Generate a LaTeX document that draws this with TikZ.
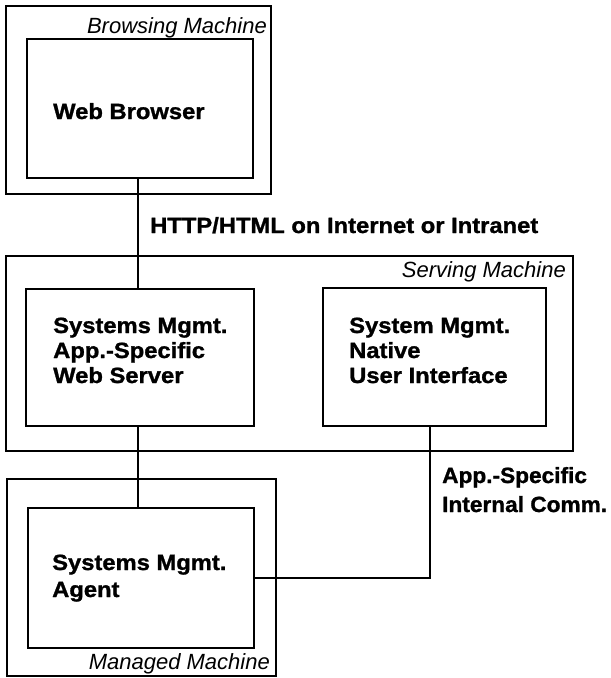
\documentclass[tikz,border=0pt]{standalone}
\usepackage{fontspec}
\setmainfont{Liberation Sans}
\newfontfamily\heavyfont[FakeStretch=1.08,BoldFeatures={FakeBold=1.2}]{Liberation Sans}
\newfontfamily\heavynarrow[FakeStretch=1.03,BoldFeatures={FakeBold=1.2}]{Liberation Sans}
\begin{document}
\begin{tikzpicture}[x=1pt,y=-1pt,
  box/.style={draw,line width=2pt,inner sep=0pt,anchor=north west},
  lbl/.style={font=\heavyfont\bfseries\fontsize{22}{#1}\selectfont,inner sep=0pt,align=left,anchor=base west},
  lbl/.default=25,
  tag/.style={font=\itshape\fontsize{22}{26}\selectfont,inner sep=0pt,anchor=base east},
  wire/.style={line width=2pt}]
\useasboundingbox (0,0) rectangle (611,678);

% machines
\node[box,minimum width=265pt,minimum height=188pt] (browsing) at (5,5) {};
\node[box,minimum width=567pt,minimum height=195pt] (serving) at (5,255) {};
\node[box,minimum width=269pt,minimum height=197pt] (managed) at (6,478) {};

% components
\node[box,minimum width=226pt,minimum height=139pt] (wb) at (26,38) {};
\node[box,minimum width=228pt,minimum height=137pt] (ws) at (25,288) {};
\node[box,minimum width=223pt,minimum height=138pt] (ui) at (322,287) {};
\node[box,minimum width=226pt,minimum height=140pt] (agent) at (27,507) {};

% machine names
\node[tag] (tbrowse) at (267,33) {Browsing Machine};
\node[tag] (tserve) at (566,277) {Serving Machine};
\node[tag] (tmanage) at (270,669) {Managed Machine};

% component names (base anchor = last line)
\node[lbl] (twb) at (53,119) {Web Browser};
\node[lbl] (tws) at (53,383) {Systems Mgmt.\\App.-Specific\\Web Server};
\node[lbl] (tui) at (349,383) {System Mgmt.\\Native\\User Interface};
\node[lbl=27] (tagent) at (52,597) {Systems Mgmt.\\Agent};

% connections
\draw[wire] ([xshift=-2pt]wb.south) -- ([xshift=-2pt]wb.south |- ws.north);
\draw[wire] ([xshift=-2pt]wb.south |- ws.south) -- ([xshift=-2pt]wb.south |- agent.north);
\draw[wire] ([xshift=-5pt]ui.south) |- (agent.east);

% connection labels
\node[lbl] (thttp) at (150,233) {HTTP/HTML on Internet or Intranet};
\node[lbl=29,font=\heavynarrow\bfseries\fontsize{22}{29}\selectfont] (tcomm) at (442,512) {App.-Specific\\Internal Comm.};
\end{tikzpicture}
\end{document}
